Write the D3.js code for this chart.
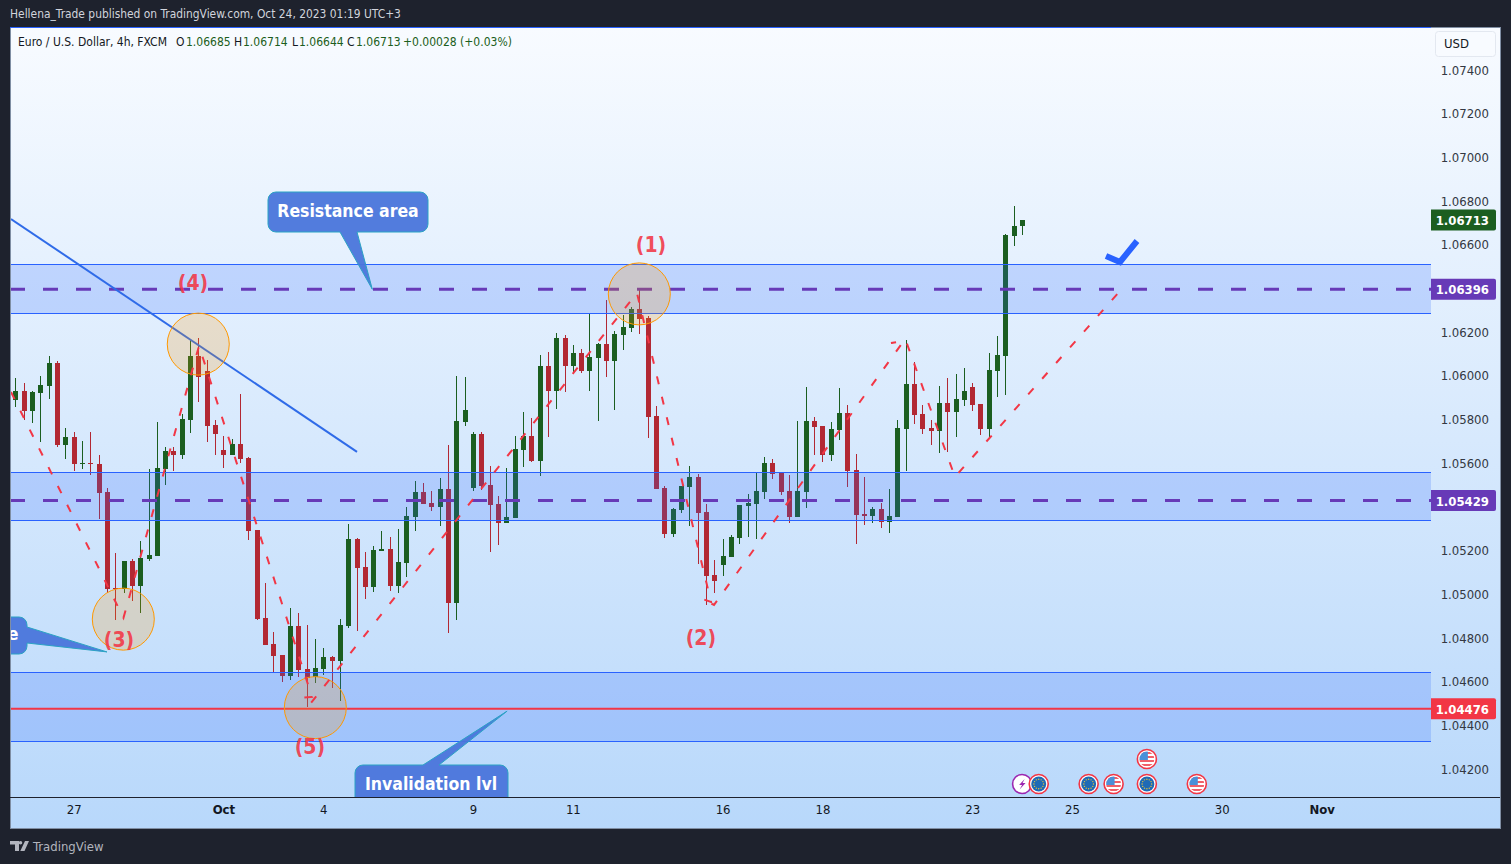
<!DOCTYPE html>
<html>
<head>
<meta charset="utf-8">
<script src="https://cdn.jsdelivr.net/npm/d3@7"></script>
<style>
  html, body { margin: 0; padding: 0; background: #1e222d; overflow: hidden; }
  text { font-family: "DejaVu Sans Condensed", "DejaVu Sans", sans-serif; font-stretch: condensed; }
</style>
</head>
<body>
<div id="chart"></div>
<script>
// EUR/USD 4h candles
const opens = [
  1.05887,1.05931,1.05841,1.05923,1.05955,1.06059,1.05684,1.05720,1.05594,1.05601,
  1.05597,1.05469,1.05029,1.05026,1.05153,1.05040,1.05162,1.05176,1.05574,1.05656,
  1.05638,1.05798,1.06091,1.06022,1.05775,1.05661,1.05638,1.05688,1.05624,1.05295,
  1.04892,1.04773,1.04722,1.04626,1.04855,1.04658,1.04622,1.04658,1.04713,1.04695,
  1.04855,1.05253,1.05125,1.05034,1.05198,1.05208,1.05038,1.05143,1.05354,1.05468,
  1.05418,1.05400,1.05482,1.04960,1.05789,1.05487,1.05734,1.05500,1.05414,1.05327,
  1.05349,1.05661,1.05725,1.05610,1.06045,1.05931,1.06173,1.06045,1.06105,1.06022,
  1.06082,1.06146,1.06068,1.06187,1.06219,1.06306,1.06265,1.05816,1.05487,1.05276,
  1.05386,1.05491,1.05537,1.05377,1.05089,1.05134,1.05171,1.05258,1.05404,1.05414,
  1.05468,1.05601,1.05555,1.05473,1.05354,1.05468,1.05793,1.05770,1.05638,1.05752,
  1.05830,1.05569,1.05368,1.05359,1.05391,1.05331,1.05354,1.05757,1.05963,1.05826,
  1.05761,1.05748,1.05876,1.05835,1.05890,1.05949,1.05871,1.05757,1.06022,1.06091,
  1.06640,1.06685];
const highs = [
  1.05989,1.05966,1.05931,1.05999,1.06091,1.06068,1.05761,1.05743,1.05702,1.05743,
  1.05638,1.05485,1.05189,1.05153,1.05162,1.05244,1.05574,1.05789,1.05674,1.05674,
  1.05826,1.06164,1.06173,1.06073,1.05798,1.05725,1.05711,1.05917,1.05629,1.05295,
  1.05052,1.04828,1.04722,1.04938,1.04915,1.04860,1.04796,1.04754,1.04718,1.04887,
  1.05322,1.05258,1.05194,1.05221,1.05290,1.05262,1.05299,1.05400,1.05519,1.05510,
  1.05473,1.05533,1.05684,1.05999,1.05995,1.05743,1.05743,1.05587,1.05450,1.05578,
  1.05725,1.05835,1.05807,1.06095,1.06109,1.06196,1.06187,1.06141,1.06123,1.06283,
  1.06150,1.06347,1.06205,1.06279,1.06315,1.06396,1.06274,1.05862,1.05496,1.05395,
  1.05496,1.05587,1.05551,1.05414,1.05157,1.05253,1.05272,1.05409,1.05459,1.05555,
  1.05629,1.05620,1.05555,1.05546,1.05793,1.05949,1.05812,1.05770,1.05789,1.05945,
  1.05867,1.05642,1.05537,1.05400,1.05418,1.05482,1.05798,1.06164,1.06064,1.05867,
  1.05798,1.05954,1.05990,1.06009,1.06036,1.05967,1.05871,1.06105,1.06183,1.06649,
  1.06778,1.06714];
const lows = [
  1.05855,1.05798,1.05786,1.05699,1.05894,1.05676,1.05620,1.05562,1.05574,1.05548,
  1.05346,1.05005,1.04884,1.05008,1.04971,1.04912,1.05154,1.05176,1.05501,1.05565,
  1.05620,1.05739,1.05880,1.05697,1.05638,1.05578,1.05638,1.05601,1.05249,1.04883,
  1.04768,1.04645,1.04599,1.04608,1.04622,1.04484,1.04594,1.04631,1.04571,1.04512,
  1.04846,1.04832,1.04979,1.05011,1.05198,1.05015,1.05006,1.05079,1.05290,1.05414,
  1.05381,1.05313,1.04823,1.04883,1.05771,1.05473,1.05478,1.05194,1.05226,1.05327,
  1.05349,1.05583,1.05606,1.05542,1.05720,1.05848,1.05926,1.06013,1.06013,1.05931,
  1.05793,1.05995,1.05844,1.06118,1.06201,1.06192,1.05716,1.05482,1.05258,1.05262,
  1.05372,1.05313,1.05139,1.04951,1.05006,1.05084,1.05171,1.05230,1.05263,1.05253,
  1.05436,1.05528,1.05455,1.05327,1.05354,1.05395,1.05638,1.05606,1.05610,1.05706,
  1.05491,1.05230,1.05317,1.05327,1.05304,1.05281,1.05354,1.05565,1.05780,1.05734,
  1.05684,1.05647,1.05652,1.05720,1.05862,1.05839,1.05729,1.05716,1.05903,1.05912,
  1.06594,1.06644];
const closes = [
  1.05931,1.05841,1.05926,1.05958,1.06059,1.05684,1.05720,1.05594,1.05601,1.05594,
  1.05465,1.05026,1.05023,1.05153,1.05040,1.05166,1.05180,1.05578,1.05656,1.05638,
  1.05803,1.06091,1.05995,1.05771,1.05734,1.05638,1.05688,1.05620,1.05290,1.04887,
  1.04768,1.04718,1.04626,1.04855,1.04654,1.04617,1.04663,1.04713,1.04695,1.04860,
  1.05253,1.05121,1.05034,1.05203,1.05208,1.05038,1.05148,1.05359,1.05468,1.05414,
  1.05400,1.05482,1.04960,1.05793,1.05844,1.05734,1.05496,1.05409,1.05327,1.05354,
  1.05665,1.05725,1.05610,1.06045,1.05931,1.06173,1.06045,1.06105,1.06022,1.06086,
  1.06146,1.06068,1.06192,1.06224,1.06306,1.06260,1.05812,1.05482,1.05276,1.05391,
  1.05496,1.05537,1.05372,1.05084,1.05061,1.05176,1.05263,1.05409,1.05418,1.05473,
  1.05601,1.05551,1.05468,1.05354,1.05473,1.05793,1.05766,1.05638,1.05757,1.05830,
  1.05565,1.05363,1.05359,1.05391,1.05331,1.05359,1.05761,1.05963,1.05821,1.05757,
  1.05748,1.05876,1.05835,1.05894,1.05931,1.05867,1.05757,1.06027,1.06096,1.06645,
  1.06686,1.06713];

// axis labels
const priceTicks = [1.074,1.072,1.07,1.068,1.066,1.062,1.06,1.058,1.056,1.052,1.05,1.048,1.046,1.044,1.042];
const timeTickIdx = [7,25,37,55,67,85,97,115,127,145,157];
const timeTickLabels = ["27","Oct","4","9","11","16","18","23","25","30","Nov"];
const boldTimeLabels = ["Oct","Nov"];

// horizontal zones [top price, bottom price]
const zones = [[1.06510,1.06285],[1.05557,1.05338],[1.04642,1.04326]];
const keyLevels = [1.06396,1.05429];
const stopLevel = 1.04476;
const lastPrice = 1.06713;

// drawings: [candle index, price]
const waveIdx = [-0.53,12.99,22.07,35.65,34.45,35.53,74.71,83.61,82.52,83.97,106.68,105.24,107.04,112.93,133.0];
const wavePrice = [1.05926,1.04892,1.06137,1.04530,1.04526,1.04503,1.06379,1.04965,1.04979,1.04951,1.06155,1.06150,1.06160,1.05537,1.06398];
const trendIdx = [-0.53,41.06];
const trendPrice = [1.06718,1.05652];
const circleIdx = [21.98,12.97,36.05,74.99];
const circlePrice = [1.06145,1.04886,1.04481,1.06375];
const waveLabels = ["(4)","(3)","(5)","(1)","(2)"];
const waveLabelIdx = [21.35,12.45,35.4,76.4,82.4];
const waveLabelPrice = [1.06393,1.04759,1.04269,1.06567,1.04768];
const eventIdx = [121,123,129,132,136,142,136];
const eventKind = ["bolt","eu","eu","us","eu","us","us"];
const eventRow = [0,0,0,0,0,0,1];

const W = 1511, H = 864;
const pane = { left: 10, right: 1500, top: 27, bottom: 828, plotRight: 1431, axisY: 797 };
const bull = "#1b5e20", bear = "#b22833", blue = "#2962ff", purple = "#673ab7", redLine = "#f23645";

const x = d3.scaleLinear().domain([0, 157]).range([15.4, 1321.6]);
const y = d3.scaleLinear().domain([1.042, 1.074]).range([769, 70]);
const snap = v => Math.floor(v) + 0.5;

const svg = d3.select("#chart").append("svg")
  .attr("width", W).attr("height", H).style("display", "block");

const defs = svg.append("defs");
const grad = defs.append("linearGradient").attr("id", "bg").attr("x1", 0).attr("x2", 0).attr("y1", 0).attr("y2", 1);
grad.append("stop").attr("offset", "0%").attr("stop-color", "#f8fbff");
grad.append("stop").attr("offset", "100%").attr("stop-color", "#b8d8fb");
defs.append("clipPath").attr("id", "plotClip").append("rect")
  .attr("x", pane.left + 1).attr("y", pane.top + 1)
  .attr("width", pane.plotRight - pane.left - 1).attr("height", pane.axisY - pane.top - 1);

// header
svg.append("text").attr("x", 10).attr("y", 18).attr("fill", "#d1d4dc").attr("font-size", 11.9)
  .text("Hellena_Trade published on TradingView.com, Oct 24, 2023 01:19 UTC+3");

// pane
svg.append("rect").attr("x", pane.left + 0.5).attr("y", pane.top + 0.5)
  .attr("width", pane.right - pane.left).attr("height", pane.bottom - pane.top)
  .attr("fill", "url(#bg)").attr("stroke", "#7f8ea3");
svg.append("line").attr("x1", pane.left).attr("x2", pane.plotRight)
  .attr("y1", pane.top + 0.5).attr("y2", pane.top + 0.5).attr("stroke", blue);

const plot = svg.append("g").attr("clip-path", "url(#plotClip)");

// candles
const candles = d3.range(opens.length).map(i => ({ i, o: opens[i], h: highs[i], l: lows[i], c: closes[i] }));
const candle = plot.append("g").selectAll("g").data(candles).join("g")
  .attr("fill", d => d.c >= d.o ? bull : bear)
  .attr("stroke", d => d.c >= d.o ? bull : bear)
  .attr("shape-rendering", "crispEdges");
candle.append("line")
  .attr("x1", d => Math.round(x(d.i)) + 0.5).attr("x2", d => Math.round(x(d.i)) + 0.5)
  .attr("y1", d => y(d.h)).attr("y2", d => y(d.l));
candle.append("rect")
  .attr("x", d => Math.round(x(d.i)) - 2).attr("width", 5)
  .attr("y", d => y(Math.max(d.o, d.c)))
  .attr("height", d => Math.max(1, y(Math.min(d.o, d.c)) - y(Math.max(d.o, d.c))))
  .attr("stroke", "none");

// zones drawn over the candles
plot.append("g").selectAll("rect").data(zones).join("rect")
  .attr("x", pane.left).attr("width", pane.plotRight - pane.left)
  .attr("y", d => snap(y(d[0]))).attr("height", d => snap(y(d[1])) - snap(y(d[0])))
  .attr("fill", blue).attr("fill-opacity", 0.2);
plot.append("g").selectAll("line").data(zones.flat()).join("line")
  .attr("x1", pane.left).attr("x2", pane.plotRight)
  .attr("y1", d => snap(y(d))).attr("y2", d => snap(y(d)))
  .attr("stroke", blue).attr("stroke-width", 1);

// key levels
plot.append("g").selectAll("line").data(keyLevels).join("line")
  .attr("x1", pane.left).attr("x2", pane.plotRight)
  .attr("y1", d => y(d)).attr("y2", d => y(d))
  .attr("stroke", purple).attr("stroke-width", 3).attr("stroke-dasharray", "15 18");
plot.append("line")
  .attr("x1", pane.left).attr("x2", pane.plotRight)
  .attr("y1", y(stopLevel)).attr("y2", y(stopLevel))
  .attr("stroke", redLine).attr("stroke-width", 2);

// trend line
const pathLine = d3.line().x(d => x(d[0])).y(d => y(d[1]));
plot.append("path").attr("d", pathLine(d3.zip(trendIdx, trendPrice)))
  .attr("fill", "none").attr("stroke", "#2f6be8").attr("stroke-width", 2);

// circles
plot.append("g").selectAll("circle").data(d3.zip(circleIdx, circlePrice)).join("circle")
  .attr("cx", d => x(d[0])).attr("cy", d => y(d[1])).attr("r", 31)
  .attr("fill", "#ff9800").attr("fill-opacity", 0.2)
  .attr("stroke", "#ff9800").attr("stroke-width", 1);

// wave path
plot.append("path").attr("d", pathLine(d3.zip(waveIdx, wavePrice)))
  .attr("fill", "none").attr("stroke", redLine).attr("stroke-width", 2)
  .attr("stroke-dasharray", "8 13");

// wave labels
plot.append("g").selectAll("text").data(waveLabels).join("text")
  .attr("x", (d, i) => x(waveLabelIdx[i])).attr("y", (d, i) => y(waveLabelPrice[i]))
  .attr("text-anchor", "middle").attr("font-size", 21).attr("font-weight", 700)
  .attr("fill", redLine).attr("fill-opacity", 0.9)
  .text(d => d);

// check mark
plot.append("path")
  .attr("d", d3.line()([[1106, 256], [1120, 262], [1137, 241]]))
  .attr("fill", "none").attr("stroke", blue).attr("stroke-width", 6).attr("stroke-linejoin", "miter");

// callout bubble: rounded box with a tail leaving one edge
function calloutPath(b, edge, t1, t2, tip) {
  const r = 8, p = d3.path();
  p.moveTo(b.x0 + r, b.y0);
  if (edge === "top") { p.lineTo(t1, b.y0); p.lineTo(tip[0], tip[1]); p.lineTo(t2, b.y0); }
  p.arcTo(b.x1, b.y0, b.x1, b.y0 + r, r);
  if (edge === "right") { p.lineTo(b.x1, t1); p.lineTo(tip[0], tip[1]); p.lineTo(b.x1, t2); }
  p.arcTo(b.x1, b.y1, b.x1 - r, b.y1, r);
  if (edge === "bottom") { p.lineTo(t1, b.y1); p.lineTo(tip[0], tip[1]); p.lineTo(t2, b.y1); }
  p.arcTo(b.x0, b.y1, b.x0, b.y1 - r, r);
  p.arcTo(b.x0, b.y0, b.x0 + r, b.y0, r);
  p.closePath();
  return p.toString();
}
const callouts = [
  { box: { x0: 268, x1: 428, y0: 192, y1: 232 }, edge: "bottom", t1: 357, t2: 340, tip: [x(42.9), y(1.06396)], text: "Resistance area", tx: 348, ty: 217 },
  { box: { x0: 355, x1: 508, y0: 765, y1: 812 }, edge: "top", t1: 423, t2: 439, tip: [x(59.1), y(1.04465)], text: "Invalidation lvl", tx: 431, ty: 790 },
  { box: { x0: -40, x1: 27, y0: 617, y1: 654 }, edge: "right", t1: 627, t2: 643, tip: [x(11), y(1.04736)], text: "e", tx: 13, ty: 640 }
];
const calloutG = plot.append("g").selectAll("g").data(callouts).join("g");
calloutG.append("path").attr("d", d => calloutPath(d.box, d.edge, d.t1, d.t2, d.tip))
  .attr("fill", "#4a75db").attr("fill-opacity", 0.95).attr("stroke", "#2ba3c4").attr("stroke-width", 1);
calloutG.append("text").attr("x", d => d.tx).attr("y", d => d.ty)
  .attr("text-anchor", "middle").attr("fill", "#fff").attr("font-size", 17.5).attr("font-weight", 600)
  .text(d => d.text);

// time axis
const xAxis = d3.axisBottom(x).tickValues(timeTickIdx).tickSize(0).tickPadding(8)
  .tickFormat((d, i) => timeTickLabels[i]);
const gx = svg.append("g").attr("transform", `translate(0,${pane.axisY})`).call(xAxis);
gx.select(".domain").remove();
gx.selectAll("text").attr("font-size", 13).attr("fill", "#131722")
  .attr("font-family", null)
  .attr("font-weight", d => boldTimeLabels.includes(timeTickLabels[timeTickIdx.indexOf(d)]) ? 700 : 400);
svg.append("line").attr("x1", pane.left).attr("x2", pane.right)
  .attr("y1", pane.axisY + 0.5).attr("y2", pane.axisY + 0.5).attr("stroke", "#1e222d");

// price axis
const yAxis = d3.axisLeft(y).tickValues(priceTicks).tickSize(0).tickPadding(0).tickFormat(d3.format(".5f"));
const gy = svg.append("g").attr("transform", "translate(1489,0)").call(yAxis);
gy.select(".domain").remove();
gy.selectAll("text").attr("font-size", 13).attr("fill", "#333842");

// price tags
const priceTags = [
  { v: lastPrice, fill: bull }, { v: keyLevels[0], fill: purple },
  { v: keyLevels[1], fill: purple }, { v: stopLevel, fill: redLine }
];
const tag = svg.append("g").selectAll("g").data(priceTags).join("g");
tag.append("path").attr("d", d => {
  const top = y(d.v) - 10.5, p = d3.path();
  p.moveTo(1431, top); p.lineTo(1494, top); p.arcTo(1496, top, 1496, top + 2, 2);
  p.lineTo(1496, top + 19); p.arcTo(1496, top + 21, 1494, top + 21, 2);
  p.lineTo(1431, top + 21); p.closePath();
  return p.toString();
}).attr("fill", d => d.fill);
tag.append("text").attr("x", 1489).attr("y", d => y(d.v) + 5)
  .attr("text-anchor", "end").attr("fill", "#fff").attr("font-size", 13).attr("font-weight", 700)
  .text(d => d3.format(".5f")(d.v));

// currency button
svg.append("rect").attr("x", 1435.5).attr("y", 31.5).attr("width", 60).attr("height", 25).attr("rx", 3)
  .attr("fill", "#f8fbff").attr("stroke", "#e3e8f0");
svg.append("text").attr("x", 1444).attr("y", 48).attr("font-size", 13).attr("fill", "#131722").text("USD");

// legend line
const legendPieces = [
  ["Euro / U.S. Dollar, 4h, FXCM", 18, "#131722"],
  ["O", 176, "#131722"], ["1.06685", 186, bull],
  ["H", 234, "#131722"], ["1.06714", 243, bull],
  ["L", 292, "#131722"], ["1.06644", 299, bull],
  ["C", 347, "#131722"], ["1.06713", 356, bull],
  ["+0.00028 (+0.03%)", 403, bull]
];
svg.append("g").selectAll("text").data(legendPieces).join("text")
  .attr("x", d => d[1]).attr("y", 46).attr("font-size", 12).attr("fill", d => d[2]).text(d => d[0]);

// event markers under the candles
const events = svg.append("g").selectAll("g").data(d3.range(eventIdx.length)).join("g")
  .attr("transform", i => `translate(${x(eventIdx[i])},${784 - eventRow[i] * 25})`);
events.append("circle").attr("r", 9.5).attr("fill", "#fff")
  .attr("stroke", i => eventKind[i] === "bolt" ? "#9c27b0" : "#f23645").attr("stroke-width", 1.6);
events.filter(i => eventKind[i] === "eu").each(function () {
  const g = d3.select(this);
  g.append("circle").attr("r", 7.5).attr("fill", "#1f6ab5");
  g.selectAll(".star").data(d3.range(12)).join("circle").attr("class", "star")
    .attr("cx", k => 4.8 * Math.cos(k * Math.PI / 6)).attr("cy", k => 4.8 * Math.sin(k * Math.PI / 6))
    .attr("r", 0.7).attr("fill", "#e8c33a");
});
events.filter(i => eventKind[i] === "us").each(function (i) {
  const g = d3.select(this);
  defs.append("clipPath").attr("id", "flag" + i).append("circle").attr("r", 7.5);
  const f = g.append("g").attr("clip-path", `url(#flag${i})`);
  f.append("rect").attr("x", -8).attr("y", -8).attr("width", 16).attr("height", 16).attr("fill", "#fff");
  f.selectAll(".stripe").data([-6, -2, 2, 6]).join("rect").attr("class", "stripe")
    .attr("x", -8).attr("y", d => d - 1).attr("width", 16).attr("height", 2).attr("fill", "#f0606a");
  f.append("rect").attr("x", -8).attr("y", -8).attr("width", 9).attr("height", 9).attr("fill", "#4a90d9");
});
events.filter(i => eventKind[i] === "bolt").append("path")
  .attr("d", d3.line()([[2.5, -5], [-3, 1], [0, 1], [-2.5, 5.5], [3.5, -1], [0.5, -1]]))
  .attr("fill", "#9c27b0");

// footer logo
svg.append("path").attr("d", "M10 841h9v10h-4v-6.5h-5zM20.5 841a1.8 1.8 0 1 1 0 3.6a1.8 1.8 0 0 1 0 -3.6zM25 841h4l-4.5 10h-4.2z")
  .attr("fill", "#b2b5be");
svg.append("text").attr("x", 33).attr("y", 851).attr("font-size", 13).attr("fill", "#b2b5be").text("TradingView");
</script>
</body>
</html>
